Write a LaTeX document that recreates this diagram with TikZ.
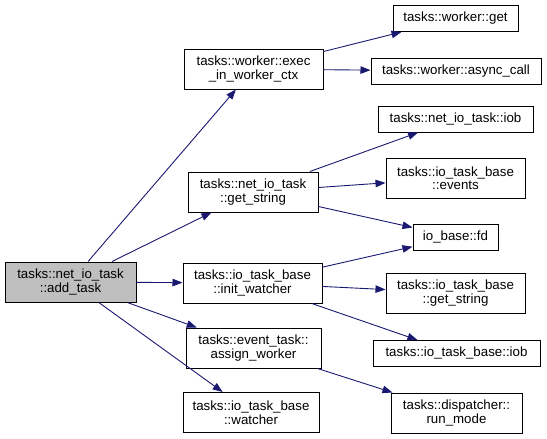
\documentclass[tikz,border=0pt]{standalone}
\usepackage{fontspec}
\setmainfont{Liberation Sans}
\usetikzlibrary{arrows.meta}
\definecolor{edgeblue}{HTML}{191970}
\tikzset{
    fn/.style={draw=black, line width=1pt, fill=white, align=center, inner sep=0pt,
        minimum height=26pt, font=\fontsize{13.3}{13.5}\selectfont},
    fn2/.style={fn, minimum height=40pt},
    root/.style={fn2, fill=black!25},
    edge/.style={draw=edgeblue, line width=0.9pt,
        -{Triangle[length=10pt,width=7.5pt]}}
}
\begin{document}
\begin{tikzpicture}[x=1pt,y=-1pt]
    \useasboundingbox (0,0) rectangle (547,439);

    % Caller
    \node[root, minimum width=131pt] (addtask) at (70.5,282) {tasks::net\_io\_task\\::add\_task};

    % Direct callees
    \node[fn2, minimum width=139pt] (execctx) at (253.5,69) {tasks::worker::exec\\\_in\_worker\_ctx};
    \node[fn2, minimum width=130pt] (netgetstr) at (253,192) {tasks::net\_io\_task\\::get\_string};
    \node[fn2, minimum width=139pt] (initwatch) at (252.5,283) {tasks::io\_task\_base\\::init\_watcher};
    \node[fn2, minimum width=135pt] (assignwk) at (253.5,348) {tasks::event\_task::\\assign\_worker};
    \node[fn2, minimum width=136pt] (watcher) at (251,412.5) {tasks::io\_task\_base\\::watcher};

    % Second level
    \node[fn, minimum width=125pt] (wkget) at (455.5,18.5) {tasks::worker::get};
    \node[fn, minimum width=170pt] (asynccall) at (456,71) {tasks::worker::async\_call};
    \node[fn, minimum width=155pt] (netiob) at (455.5,119) {tasks::net\_io\_task::iob};
    \node[fn2, minimum width=139pt] (events) at (455.5,178) {tasks::io\_task\_base\\::events};
    \node[fn, minimum width=85pt] (iofd) at (455.5,237) {io\_base::fd};
    \node[fn2, minimum width=139pt] (basegetstr) at (455.5,293) {tasks::io\_task\_base\\::get\_string};
    \node[fn, minimum width=167pt] (baseiob) at (456.5,353.5) {tasks::io\_task\_base::iob};
    \node[fn2, minimum width=131pt] (runmode) at (456.5,413) {tasks::dispatcher::\\run\_mode};

    % Calls
    \foreach \a/\b in {addtask/execctx, addtask/netgetstr, addtask/initwatch,
        addtask/assignwk, addtask/watcher,
        execctx/wkget, execctx/asynccall,
        netgetstr/netiob, netgetstr/events, netgetstr/iofd,
        initwatch/iofd, initwatch/basegetstr, initwatch/baseiob,
        assignwk/runmode}
        \draw[edge] (\a) -- (\b);
\end{tikzpicture}
\end{document}
